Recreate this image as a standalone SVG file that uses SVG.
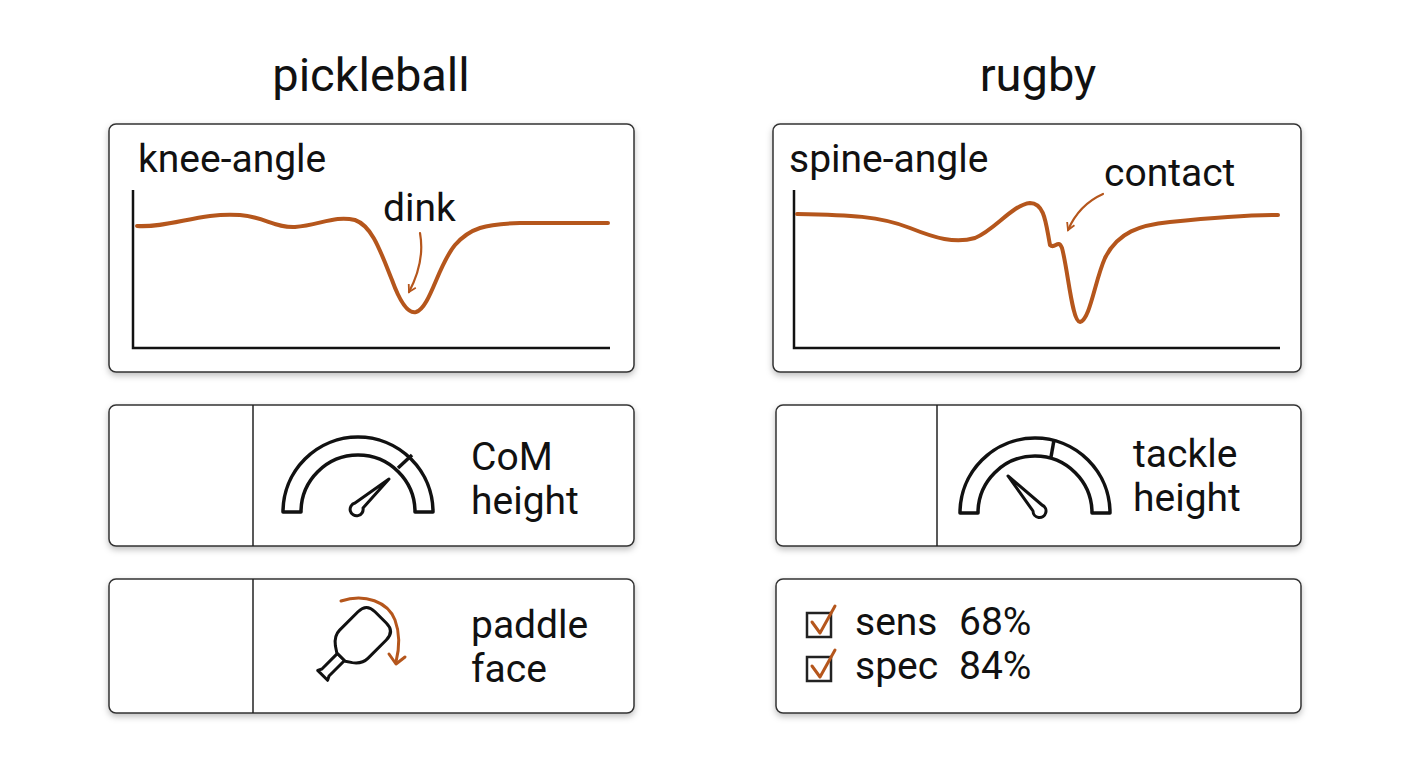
<svg xmlns="http://www.w3.org/2000/svg" width="1408" height="768" viewBox="0 0 1408 768">
<defs>
<filter id="sh" x="-5%" y="-5%" width="110%" height="120%"><feDropShadow dx="0" dy="3" stdDeviation="3" flood-opacity="0.25"/></filter>
<marker id="ah" viewBox="0 0 10 10" refX="8" refY="5" markerWidth="10" markerHeight="10" orient="auto" markerUnits="userSpaceOnUse"><path d="M1,1 L8,5 L1,9" fill="none" stroke="#b5561c" stroke-width="1.8"/></marker>
</defs>
<style>
text{font-family:Roboto,"Liberation Sans",sans-serif;fill:#111}
.box{fill:#fff;stroke:#333;stroke-width:1.5;filter:url(#sh)}
.ln{stroke:#222;stroke-width:1.5;fill:none}
.ax{stroke:#111;stroke-width:2.5;fill:none}
.cv{stroke:#b5561c;stroke-width:4;fill:none;stroke-linecap:round;stroke-linejoin:round}
.ar{stroke:#b5561c;stroke-width:2.2;fill:none;stroke-linecap:round;stroke-linejoin:round}
.ic{stroke:#111;stroke-width:3.5;fill:#fff;stroke-linejoin:round}
.t{font-size:39px}
</style>
<rect width="1408" height="768" fill="#fff"/>
<text x="371" y="91" font-size="47" text-anchor="middle">pickleball</text>
<text x="1038" y="91" font-size="47" text-anchor="middle">rugby</text>
<g id="pk-chart">
<rect class="box" x="109" y="124" width="525" height="248" rx="7"/>
<text class="t" x="138" y="172">knee-angle</text>
<path class="ax" d="M133,190 V348 H610"/>
<path class="cv" d="M137,226 C170,228 200,212 240,215 C265,217 275,228 295,227 C320,225 335,215 355,220 C372,226 380,250 392,280 C400,302 408,314 416,312 C430,308 438,265 455,245 C470,228 485,224 520,223 L608,223"/>
<text class="t" x="383" y="221">dink</text>
<path class="ar" d="M420,233 C424,255 418,275 409,292" marker-end="url(#ah)"/>
</g>
<g id="rg-chart">
<rect class="box" x="773" y="124" width="528" height="248" rx="7"/>
<text class="t" x="789" y="172">spine-angle</text>
<path class="ax" d="M794,190 V348 H1280"/>
<path class="cv" d="M797,214 C850,215 880,216 910,228 C935,238 955,244 975,238 C995,230 1012,205 1030,203 C1045,203 1046,225 1050,245 C1055,250 1058,238 1062,248 C1068,270 1072,322 1080,322 C1090,320 1095,280 1105,258 C1118,232 1140,225 1170,222 C1210,218 1245,215 1278,215"/>
<text class="t" x="1104" y="186">contact</text>
<path class="ar" d="M1103,194 C1085,202 1075,214 1068,230" marker-end="url(#ah)"/>
</g>
<g id="pk-com">
<rect class="box" x="109" y="405" width="525" height="141" rx="7"/>
<path class="ln" d="M253,405 V546"/>
<path class="ic" d="M283,512 A75,75 0 0 1 433,512 L415,512 A57,57 0 0 0 301,512 Z"/>
<path style="stroke:#111;stroke-width:3.5" d="M398,468 L412,455"/>
<path class="ic" style="stroke-width:3" d="M389,479 L363,508 A6.5,6.5 0 1 1 355,503 Z"/>
<text class="t" x="471" y="470">CoM</text>
<text class="t" x="471" y="514">height</text>
</g>
<g id="pk-paddle">
<rect class="box" x="109" y="579" width="525" height="134" rx="7"/>
<path class="ln" d="M253,579 V713"/>
<g transform="translate(358,640) rotate(45)">
<path class="ic" style="stroke-width:3" d="M-5,24 L-5,46 L-7,50 L7,50 L5,46 L5,24 Z"/>
<path class="ic" style="stroke-width:3" d="M-8,-32 L8,-32 Q20,-32 20,-20 L20,6 Q20,14 12,20 L6,24 L-6,24 L-12,20 Q-20,14 -20,6 L-20,-20 Q-20,-32 -8,-32 Z"/>
</g>
<path class="ar" style="stroke-width:3" d="M341,601 C365,593 388,602 395,620 C401,636 399,650 396,662"/>
<path class="ar" style="stroke-width:3" d="M389,654 L396,664 L405,657"/>
<text class="t" x="471" y="638">paddle</text>
<text class="t" x="471" y="682">face</text>
</g>
<g id="rg-tackle">
<rect class="box" x="776" y="405" width="525" height="141" rx="7"/>
<path class="ln" d="M937,405 V546"/>
<path class="ic" d="M960,513 A75,75 0 0 1 1110,513 L1092,513 A57,57 0 0 0 978,513 Z"/>
<path style="stroke:#111;stroke-width:3.5" d="M1051,457 L1054,440"/>
<path class="ic" style="stroke-width:3" d="M1008,476 L1042,505 A6.5,6.5 0 1 1 1033,511 Z"/>
<text class="t" x="1133" y="467">tackle</text>
<text class="t" x="1133" y="511">height</text>
</g>
<g id="rg-stats">
<rect class="box" x="776" y="579" width="525" height="134" rx="7"/>
<rect x="807" y="613" width="24" height="24" fill="none" stroke="#222" stroke-width="2.5"/>
<path class="ar" style="stroke-width:3" d="M812,622 L820,633 L835,606"/>
<rect x="807" y="657" width="24" height="24" fill="none" stroke="#222" stroke-width="2.5"/>
<path class="ar" style="stroke-width:3" d="M812,666 L820,677 L835,650"/>
<text class="t" x="855" y="635">sens</text>
<text class="t" x="959" y="635">68%</text>
<text class="t" x="855" y="679">spec</text>
<text class="t" x="959" y="679">84%</text>
</g>
</svg>
